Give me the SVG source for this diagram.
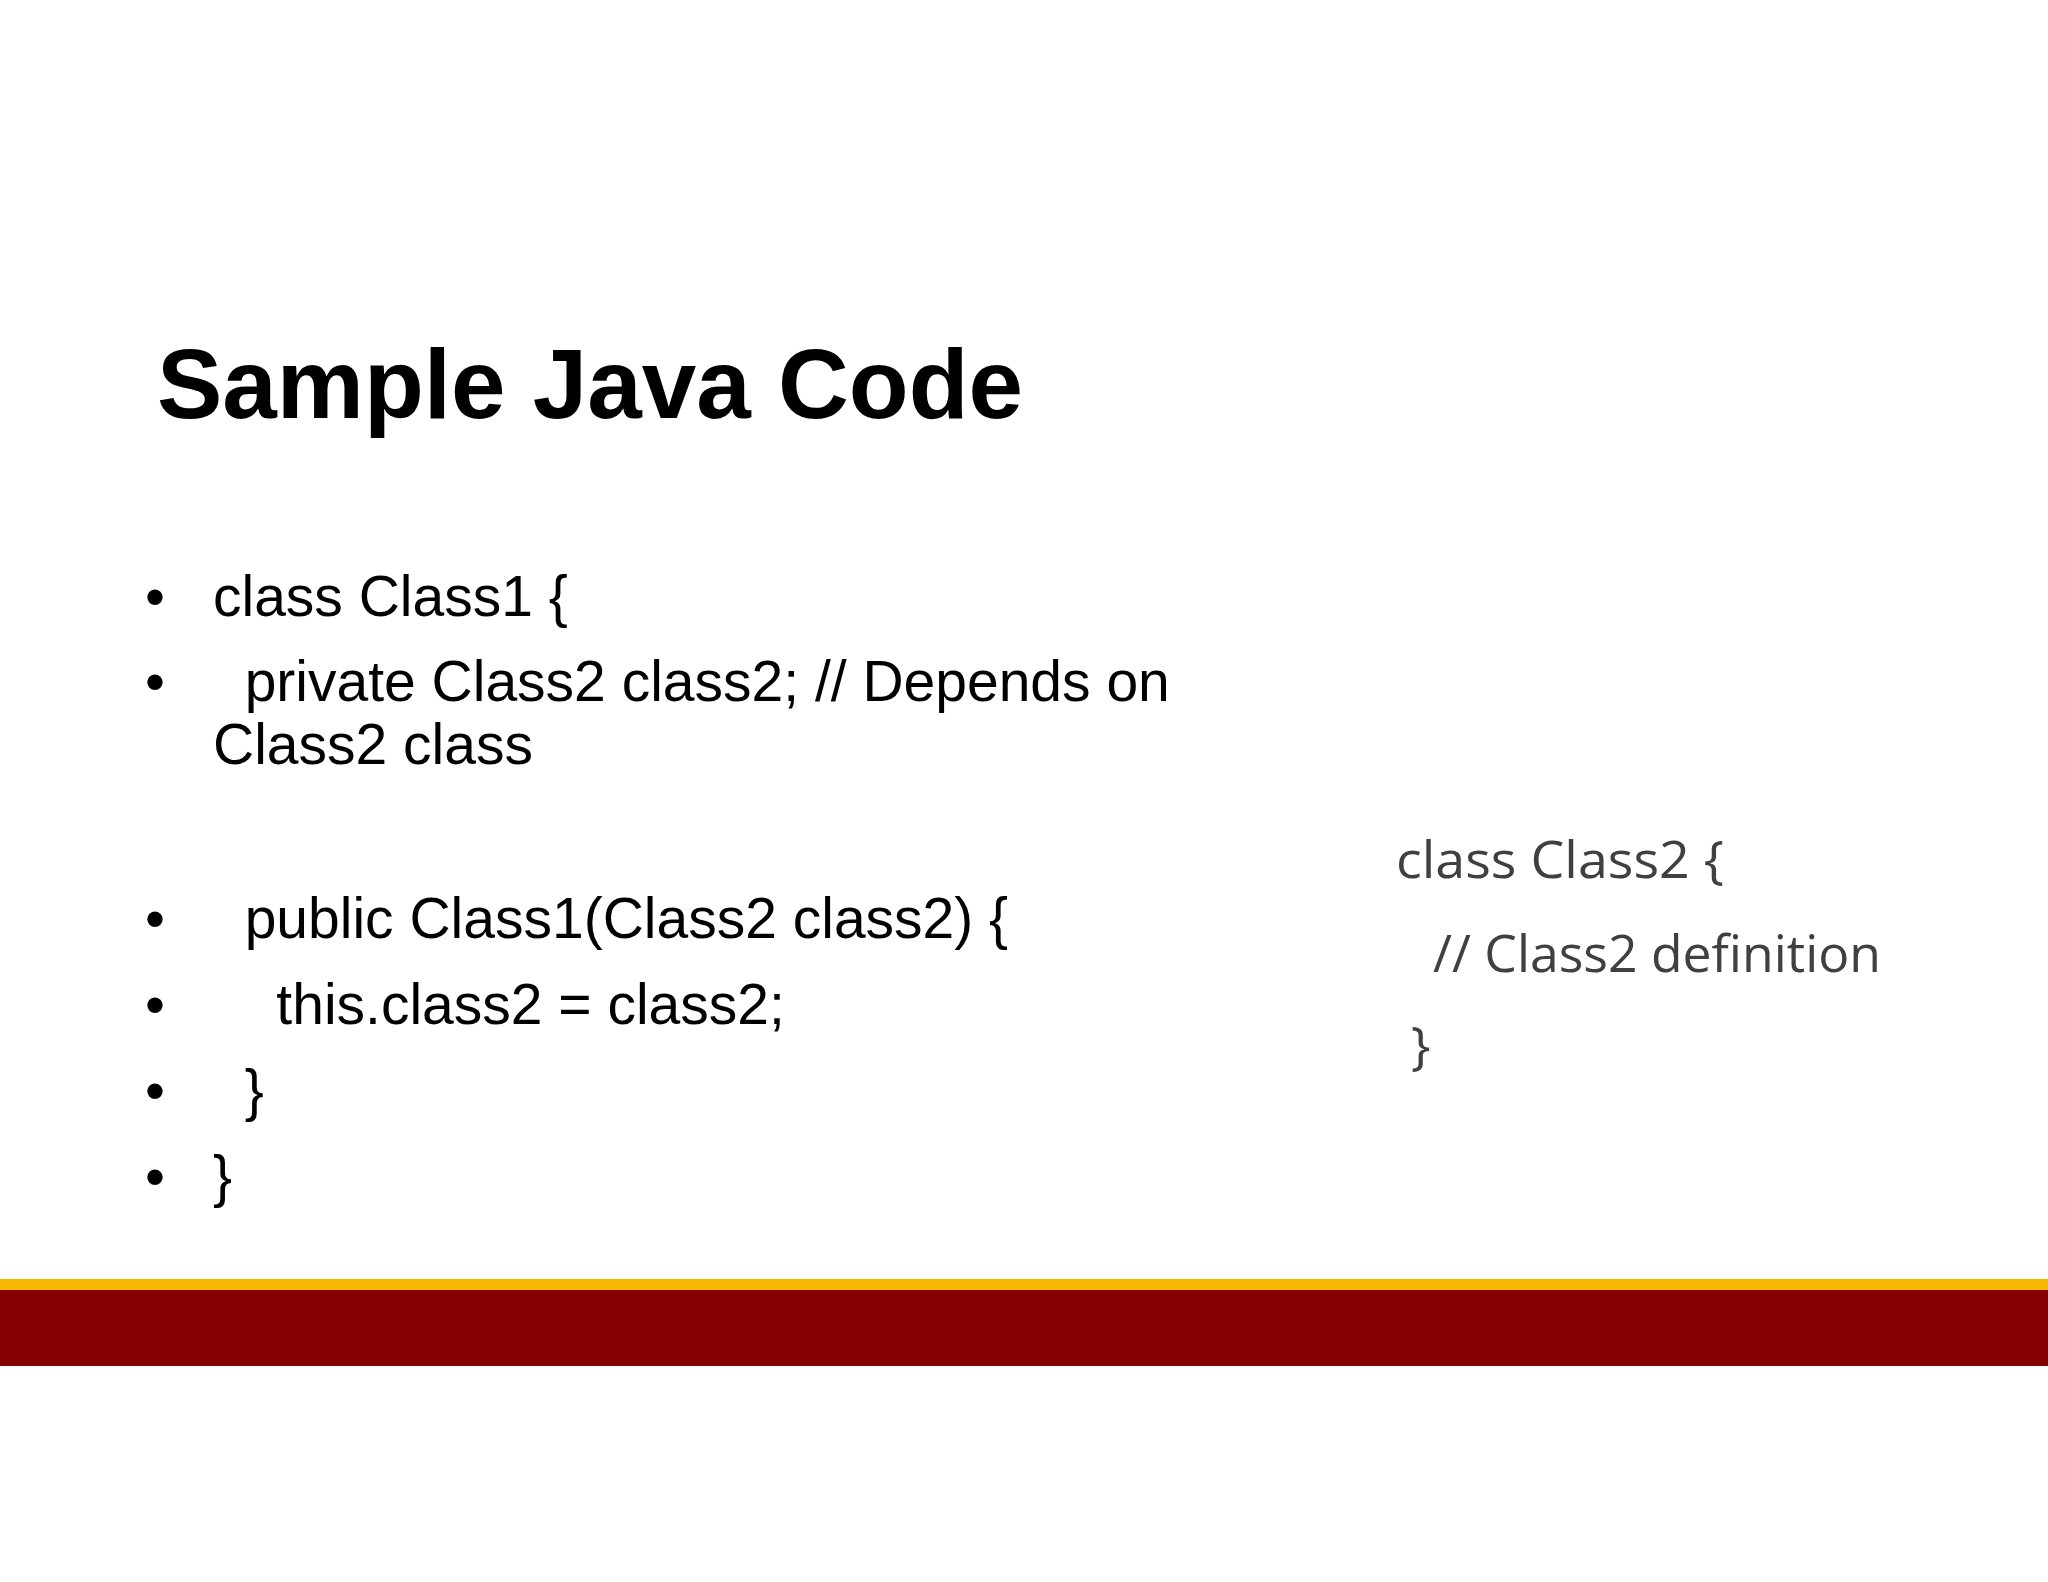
<svg xmlns="http://www.w3.org/2000/svg" width="2048" height="1582" viewBox="0 0 2048 1582">
<style>
.b{font-family:"Liberation Sans",Arial,sans-serif;font-size:57px;fill:#000}
.r{font-family:"Open Sans","Liberation Sans",sans-serif;font-size:52px;fill:#404040}
</style>
<rect width="2048" height="1582" fill="#fff"/>
<text x="157" y="418" font-family="Liberation Sans,Arial,sans-serif" font-weight="bold" font-size="98" fill="#000">Sample Java Code</text>
<g id="code1">
<text class="b" x="145" y="616">•</text><text class="b" x="213" y="616">class Class1 {</text>
<text class="b" x="145" y="701">•</text><text class="b" x="213" y="701" xml:space="preserve">  private Class2 class2; // Depends on</text>
<text class="b" x="213" y="764">Class2 class</text>
<text class="b" x="145" y="938">•</text><text class="b" x="213" y="938" xml:space="preserve">  public Class1(Class2 class2) {</text>
<text class="b" x="145" y="1024">•</text><text class="b" x="213" y="1024" xml:space="preserve">    this.class2 = class2;</text>
<text class="b" x="145" y="1110">•</text><text class="b" x="213" y="1110" xml:space="preserve">  }</text>
<text class="b" x="145" y="1196">•</text><text class="b" x="213" y="1196">}</text>
</g>
<g id="code2">
<text class="r" x="1396" y="878" textLength="328" lengthAdjust="spacingAndGlyphs">class Class2 {</text>
<text class="r" x="1433" y="972" textLength="448" lengthAdjust="spacingAndGlyphs">// Class2 definition</text>
<text class="r" x="1411" y="1064">}</text>
</g>
<rect x="0" y="1279" width="2048" height="11" fill="#F5B800"/>
<rect x="0" y="1290" width="2048" height="76" fill="#850000"/>
</svg>
